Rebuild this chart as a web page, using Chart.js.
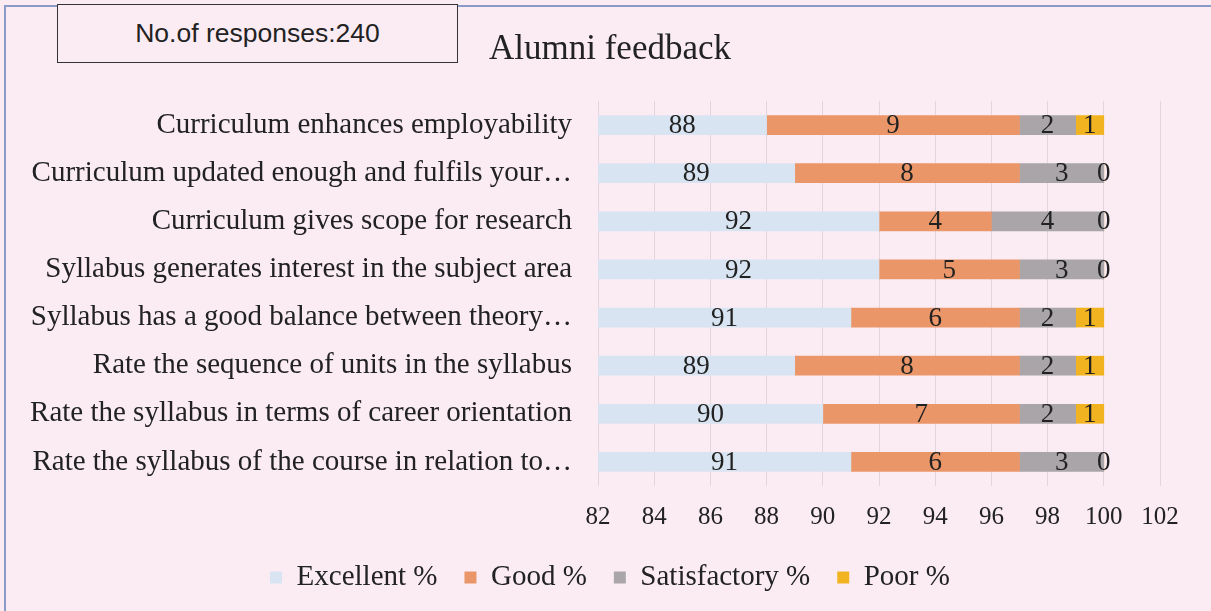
<!DOCTYPE html>
<html>
<head>
<meta charset="utf-8">
<script src="https://cdn.jsdelivr.net/npm/chart.js@4"></script>
<style>
  html, body { margin: 0; padding: 0; background: #fbecf4; }
  #wrap { position: relative; width: 1211px; height: 611px; overflow: hidden; }
  #frame { position: absolute; left: 4px; top: 5px; right: 0; bottom: -5px;
           border-top: 2px solid #8a9bc8; border-left: 2px solid #8a9bc8; }
  #resp { position: absolute; left: 57px; top: 4px; width: 399px; height: 57px;
          border: 1.5px solid #333; background: #fbecf4;
          font: 26.5px "Liberation Sans", Arial, sans-serif; color: #222;
          display: flex; align-items: center; justify-content: center; }
  canvas { position: absolute; left: 0; top: 0; }
</style>
</head>
<body>
<div id="wrap">
  <div id="frame"></div>
  <canvas id="feedbackChart" width="1211" height="611"></canvas>
  <div id="resp">No.of responses:240</div>
</div>
<script>
const questions = [
  'Curriculum enhances employability',
  'Curriculum updated enough and fulfils your…',
  'Curriculum gives scope for research',
  'Syllabus generates interest in the subject area',
  'Syllabus has a good balance between theory…',
  'Rate the sequence of units in the syllabus',
  'Rate the syllabus in terms of career orientation',
  'Rate the syllabus of the course in relation to…'
];
const excellent = [88, 89, 92, 92, 91, 89, 90, 91];
const good = [9, 8, 4, 5, 6, 8, 7, 6];
const satisfactory = [2, 3, 4, 3, 2, 2, 2, 3];
const poor = [1, 0, 0, 0, 1, 1, 1, 0];

const serif = '"Liberation Serif", "Times New Roman", serif';

// value labels in the middle of each segment (first segment clipped to the axis start)
const segmentLabels = {
  id: 'segmentLabels',
  afterLayout(chart) {
    // long category names run further left than the padded y axis box
    chart.scales.y.left = 0;
  },
  afterDatasetsDraw(chart) {
    const ctx = chart.ctx;
    const left = chart.chartArea.left;
    ctx.save();
    ctx.font = '27px ' + serif;
    ctx.fillStyle = '#222';
    ctx.textAlign = 'center';
    ctx.textBaseline = 'middle';
    chart.data.datasets.forEach((ds, i) => {
      chart.getDatasetMeta(i).data.forEach((bar, j) => {
        const start = Math.max(bar.base, left);
        const cx = (bar.x + start) / 2;
        ctx.fillText(String(ds.data[j]), cx, bar.y + 1);
      });
    });
    ctx.restore();
  }
};

const chart = new Chart(document.getElementById('feedbackChart').getContext('2d'), {
  type: 'bar',
  data: {
    labels: questions,
    datasets: [
      { label: 'Excellent %', data: excellent, backgroundColor: '#d8e4f1' },
      { label: 'Good %', data: good, backgroundColor: '#eb9668' },
      { label: 'Satisfactory %', data: satisfactory, backgroundColor: '#a9a5a9' },
      { label: 'Poor %', data: poor, backgroundColor: '#f2b321' }
    ]
  },
  options: {
    indexAxis: 'y',
    responsive: false,
    animation: false,
    barThickness: 19,
    layout: { padding: { left: 60, right: 51, top: 0, bottom: 9 } },
    scales: {
      x: {
        stacked: true,
        min: 82,
        max: 102,
        ticks: { stepSize: 2, padding: 16, color: '#222', font: { family: serif, size: 25 } },
        grid: { color: '#e3d5de', drawTicks: false },
        border: { display: false },
        afterFit: s => { s.height = 50; }
      },
      y: {
        stacked: true,
        ticks: { padding: 26, color: '#222', font: { family: serif, size: 29 } },
        grid: { display: false, drawTicks: false },
        border: { display: false },
        afterFit: s => { s.width = 538; }
      }
    },
    plugins: {
      title: {
        display: true,
        text: 'Alumni feedback',
        color: '#222',
        font: { family: serif, size: 35, weight: 'normal' },
        padding: { top: 29, bottom: 30 }
      },
      legend: {
        position: 'bottom',
        labels: {
          boxWidth: 12,
          boxHeight: 12,
          padding: 27,
          color: '#222',
          font: { family: serif, size: 29 }
        }
      },
      tooltip: { enabled: false }
    }
  },
  plugins: [segmentLabels]
});
</script>
</body>
</html>
